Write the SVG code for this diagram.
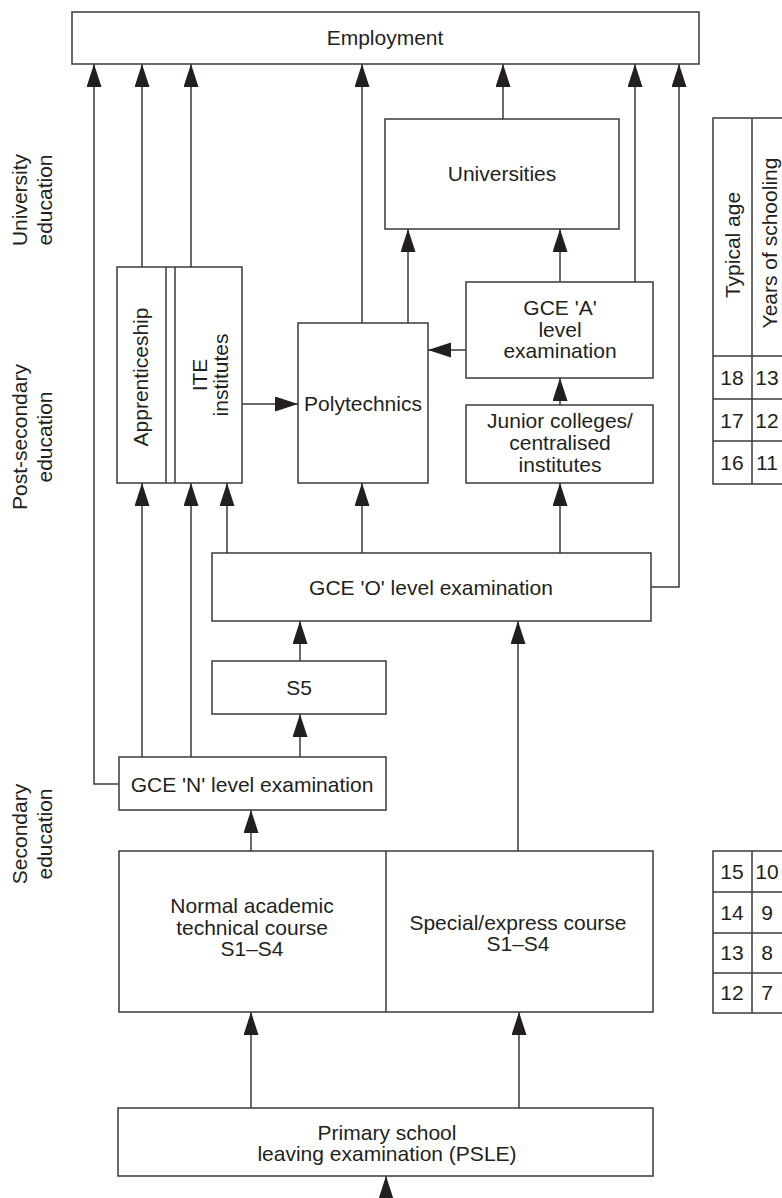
<svg xmlns="http://www.w3.org/2000/svg" width="782" height="1198" viewBox="0 0 782 1198">
<style>
.box{fill:#fff;stroke:#3a3a3a;stroke-width:1.5}
.ln{fill:none;stroke:#3a3a3a;stroke-width:1.5}
.arr{fill:none;stroke:#3a3a3a;stroke-width:1.5;marker-end:url(#ah)}
text{font-family:"Liberation Sans",Arial,sans-serif;font-size:21px;fill:#231f20;text-anchor:middle}
</style>
<defs>
<marker id="ah" markerUnits="userSpaceOnUse" markerWidth="23" markerHeight="16" refX="23" refY="7.5" orient="auto">
<path d="M0,0 L23,7.5 L0,15 z" fill="#231f20"/>
</marker>
</defs>
<rect width="782" height="1198" fill="#fff"/>

<g id="stage-labels">
<text transform="translate(27,200) rotate(-90)">University</text>
<text transform="translate(52,200) rotate(-90)">education</text>
<text transform="translate(27,437) rotate(-90)">Post-secondary</text>
<text transform="translate(52,437) rotate(-90)">education</text>
<text transform="translate(27,834) rotate(-90)">Secondary</text>
<text transform="translate(52,834) rotate(-90)">education</text>
</g>

<g id="connectors">
<path class="arr" d="M119,784 H94 V64"/>
<path class="arr" d="M142,757 V483"/>
<path class="arr" d="M191,757 V483"/>
<path class="arr" d="M142,267 V64"/>
<path class="arr" d="M191,267 V64"/>
<path class="arr" d="M227,553 V483"/>
<path class="arr" d="M242,404 H298"/>
<path class="arr" d="M362,323 V64"/>
<path class="arr" d="M408,323 V229"/>
<path class="arr" d="M503,119 V64"/>
<path class="arr" d="M560,282 V229"/>
<path class="arr" d="M635,282 V64"/>
<path class="arr" d="M466,350 H428"/>
<path class="arr" d="M560,405 V378"/>
<path class="arr" d="M362,553 V483"/>
<path class="arr" d="M560,553 V483"/>
<path class="arr" d="M651,587 H679 V64"/>
<path class="arr" d="M300,661 V621"/>
<path class="arr" d="M300,757 V714"/>
<path class="arr" d="M251,851 V810"/>
<path class="arr" d="M518,851 V621"/>
<path class="arr" d="M251,1108 V1012"/>
<path class="arr" d="M519,1108 V1012"/>
<path class="arr" d="M386,1198 V1176"/>
</g>

<g id="employment">
<rect class="box" x="72" y="12" width="627" height="52"/>
<text x="385" y="45">Employment</text>
</g>

<g id="universities">
<rect class="box" x="385" y="119" width="234" height="110"/>
<text x="502" y="181">Universities</text>
</g>

<g id="gce-a">
<rect class="box" x="466" y="282" width="187" height="96"/>
<text x="560" y="315">GCE 'A'</text>
<text x="560" y="337">level</text>
<text x="560" y="358">examination</text>
</g>

<g id="junior-colleges">
<rect class="box" x="466" y="405" width="187" height="78"/>
<text x="560" y="428">Junior colleges/</text>
<text x="560" y="450">centralised</text>
<text x="560" y="472">institutes</text>
</g>

<g id="polytechnics">
<rect class="box" x="298" y="323" width="130" height="160"/>
<text x="363" y="411">Polytechnics</text>
</g>

<g id="apprenticeship-ite">
<rect class="box" x="117" y="267" width="125" height="216"/>
<line class="ln" x1="166" y1="267" x2="166" y2="483"/>
<line class="ln" x1="175" y1="267" x2="175" y2="483"/>
<text transform="translate(148,377) rotate(-90)">Apprenticeship</text>
<text transform="translate(207,375) rotate(-90)">ITE</text>
<text transform="translate(228,375) rotate(-90)">institutes</text>
</g>

<g id="gce-o">
<rect class="box" x="212" y="553" width="439" height="68"/>
<text x="431" y="595">GCE 'O' level examination</text>
</g>

<g id="s5">
<rect class="box" x="212" y="661" width="174" height="53"/>
<text x="299" y="695">S5</text>
</g>

<g id="gce-n">
<rect class="box" x="119" y="757" width="267" height="53"/>
<text x="252" y="792">GCE 'N' level examination</text>
</g>

<g id="secondary-courses">
<rect class="box" x="119" y="851" width="534" height="161"/>
<line class="ln" x1="386" y1="851" x2="386" y2="1012"/>
<text x="252" y="913">Normal academic</text>
<text x="252" y="935">technical course</text>
<text x="252" y="956">S1–S4</text>
<text x="518" y="930">Special/express course</text>
<text x="518" y="951">S1–S4</text>
</g>

<g id="psle">
<rect class="box" x="118" y="1108" width="535" height="68"/>
<text x="387" y="1140">Primary school</text>
<text x="387" y="1161">leaving examination (PSLE)</text>
</g>

<g id="age-table-upper">
<rect class="box" x="713" y="118" width="90" height="366"/>
<line class="ln" x1="752" y1="118" x2="752" y2="484"/>
<line class="ln" x1="713" y1="356" x2="790" y2="356"/>
<line class="ln" x1="713" y1="399" x2="790" y2="399"/>
<line class="ln" x1="713" y1="441" x2="790" y2="441"/>
<text transform="translate(740,245) rotate(-90)">Typical age</text>
<text transform="translate(777,243) rotate(-90)">Years of schooling</text>
<text x="732" y="385">18</text><text x="767" y="385">13</text>
<text x="732" y="428">17</text><text x="767" y="428">12</text>
<text x="732" y="470">16</text><text x="767" y="470">11</text>
</g>

<g id="age-table-lower">
<rect class="box" x="713" y="851" width="90" height="162"/>
<line class="ln" x1="752" y1="851" x2="752" y2="1013"/>
<line class="ln" x1="713" y1="892" x2="790" y2="892"/>
<line class="ln" x1="713" y1="933" x2="790" y2="933"/>
<line class="ln" x1="713" y1="973" x2="790" y2="973"/>
<text x="732" y="879">15</text><text x="767" y="879">10</text>
<text x="732" y="920">14</text><text x="767" y="920">9</text>
<text x="732" y="960">13</text><text x="767" y="960">8</text>
<text x="732" y="1000">12</text><text x="767" y="1000">7</text>
</g>
</svg>
